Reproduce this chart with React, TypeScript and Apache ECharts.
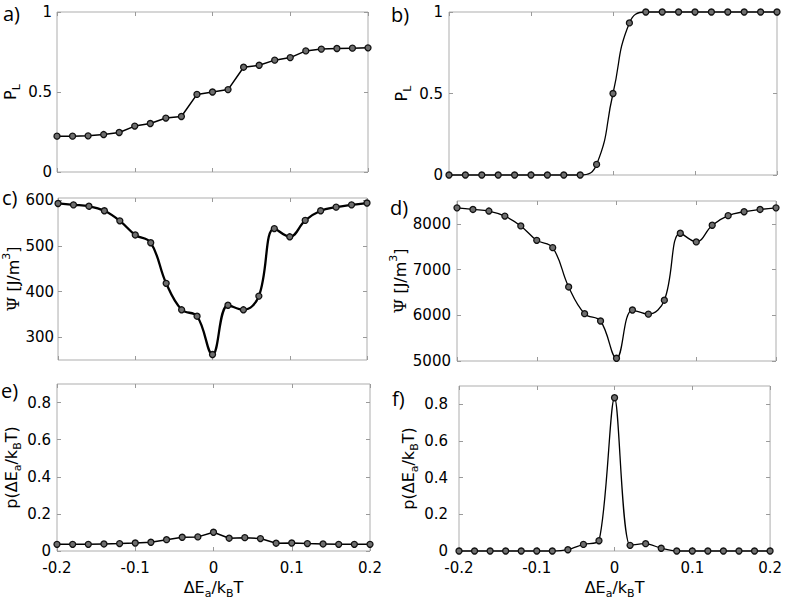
import React, { useEffect, useRef } from "react";
import * as echarts from "echarts";

// x values: ΔEa/kBT
const dEa = [-0.2, -0.18, -0.16, -0.14, -0.12, -0.1, -0.08, -0.06, -0.04, -0.02, 0, 0.02, 0.04, 0.06, 0.08, 0.1, 0.12, 0.14, 0.16, 0.18, 0.2];

// a) P_L
const pLa = [0.224, 0.224, 0.226, 0.234, 0.247, 0.287, 0.303, 0.337, 0.347, 0.485, 0.5, 0.515, 0.655, 0.667, 0.699, 0.715, 0.757, 0.768, 0.772, 0.774, 0.776];
// b) P_L
const pLb = [0, 0, 0, 0, 0, 0, 0, 0, 0, 0.065, 0.5, 0.933, 1, 1, 1, 1, 1, 1, 1, 1, 1];
// c) Ψ [J/m3]
const psiC = [593, 590, 587, 577, 555, 524, 507, 418, 360, 346, 262, 370, 360, 390, 538, 520, 556, 577, 585, 590, 594];
// d) Ψ [J/m3]
const psiD = [8350, 8315, 8280, 8170, 7955, 7640, 7480, 6620, 6035, 5875, 5060, 6115, 6025, 6330, 7795, 7605, 7970, 8180, 8265, 8315, 8350];
// e) p(ΔEa/kBT)
const probE = [0.036, 0.036, 0.036, 0.038, 0.04, 0.043, 0.047, 0.061, 0.074, 0.076, 0.101, 0.069, 0.072, 0.067, 0.042, 0.043, 0.04, 0.038, 0.036, 0.036, 0.036];
// f) p(ΔEa/kBT)
const probF = [0, 0, 0, 0, 0, 0, 0, 0.007, 0.036, 0.056, 0.836, 0.031, 0.04, 0.015, 0, 0, 0, 0, 0, 0, 0];

// tick values / labels
const xTickValues = [-0.2, -0.1, 0, 0.1, 0.2];
const xTickLabels = ["-0.2", "-0.1", "0", "0.1", "0.2"];
const pTicks = [0, 0.5, 1];
const pTickLabels = ["0", "0.5", "1"];
const psiCTicks = [300, 400, 500, 600];
const psiDTicks = [5000, 6000, 7000, 8000];
const probTicks = [0, 0.2, 0.4, 0.6, 0.8];
const probTickLabels = ["0", "0.2", "0.4", "0.6", "0.8"];

const panelLetters = ["a)", "b)", "c)", "d)", "e)", "f)"];

const FONT = "DejaVu Sans";
const rich = {
  m: { fontFamily: FONT, fontSize: 16, lineHeight: 24, verticalAlign: "middle", color: "#000" },
  s: { fontFamily: FONT, fontSize: 11, lineHeight: 12, verticalAlign: "bottom", color: "#000" },
  u: { fontFamily: FONT, fontSize: 11, lineHeight: 12, verticalAlign: "top", color: "#000" },
  psi: { fontFamily: "DejaVu Serif", fontSize: 17, lineHeight: 24, verticalAlign: "middle", color: "#000" },
};

const nameP = "{m|P}{s|L}";
const namePsi = "{psi|Ψ}{m| [J/m}{u|3}{m|]}";
const nameProb = "{m|p(ΔE}{s|a}{m|/k}{s|B}{m|T)}";
const nameX = "{m|ΔE}{s|a}{m|/k}{s|B}{m|T}";

function fmt(values: number[], labels: string[] | null) {
  return (v: number) => {
    if (!labels) return String(v);
    const i = values.findIndex((t) => Math.abs(t - v) < 1e-9);
    return i >= 0 ? labels[i] : "";
  };
}

export default function App() {
  const ref = useRef<HTMLDivElement>(null);
  useEffect(() => {
    if (!ref.current) return;
    const chart = echarts.init(ref.current, null, { renderer: "svg" });

    const panels = [
      { data: pLa, min: 0, max: 1, ticks: pTicks, labels: pTickLabels, name: nameP, grid: { left: 57, top: 12, width: 311, height: 160 }, lm: 5, ng: 35, lw: 1.5, smooth: false as any, lx: 3, ly: 13 },
      { data: pLb, min: 0, max: 1, ticks: pTicks, labels: pTickLabels, name: nameP, grid: { left: 449, top: 12, width: 328, height: 163 }, lm: 6, ng: 36, lw: 1.3, smooth: 0.5 as any, lx: 391, ly: 14 },
      { data: psiC, min: 250, max: 605, ticks: psiCTicks, labels: null, name: namePsi, grid: { left: 57, top: 198, width: 310, height: 162 }, lm: 4, ng: 28, lw: 2.3, smooth: 0.4 as any, lx: 2, ly: 197 },
      { data: psiD, min: 5000, max: 8500, ticks: psiDTicks, labels: null, name: namePsi, grid: { left: 457, top: 201, width: 319, height: 160 }, lm: 6, ng: 38, lw: 1.3, smooth: 0.4 as any, lx: 390, ly: 207 },
      { data: probE, min: 0, max: 0.9, ticks: probTicks, labels: probTickLabels, name: nameProb, grid: { left: 57, top: 384, width: 313, height: 167 }, lm: 6, ng: 32, lw: 1.5, smooth: false as any, lx: 1, ly: 390 },
      { data: probF, min: 0, max: 0.9, ticks: probTicks, labels: probTickLabels, name: nameProb, grid: { left: 459, top: 386, width: 319, height: 165 }, lm: 11, ng: 30, lw: 1.3, smooth: 0.3 as any, lx: 392, ly: 398 },
    ];

    const grids: any[] = [];
    const xAxes: any[] = [];
    const yAxes: any[] = [];
    const series: any[] = [];
    const graphics: any[] = [];
    const tickStyle = { color: "#9a9a9a", width: 1 };

    panels.forEach((p, i) => {
      grids.push({ ...p.grid, show: true, borderColor: "#adadad", borderWidth: 1, backgroundColor: "transparent", containLabel: false });
      const bottomRow = i >= 4;
      xAxes.push({
        gridIndex: i, type: "value", position: "bottom", min: -0.2, max: 0.2,
        axisLine: { show: false, onZero: false },
        axisTick: { show: true, inside: true, length: 4, lineStyle: tickStyle, customValues: xTickValues },
        axisLabel: { show: bottomRow, customValues: xTickValues, formatter: fmt(xTickValues, xTickLabels), margin: 10, fontFamily: FONT, fontSize: 15, lineHeight: 14, color: "#000", showMinLabel: true, showMaxLabel: true },
        splitLine: { show: false },
        name: bottomRow ? nameX : "", nameLocation: "middle", nameGap: 24,
        nameTextStyle: { rich },
      });
      xAxes.push({
        gridIndex: i, type: "value", position: "top", min: -0.2, max: 0.2,
        axisLine: { show: false, onZero: false },
        axisTick: { show: true, inside: true, length: 4, lineStyle: tickStyle, customValues: xTickValues },
        axisLabel: { show: false },
        splitLine: { show: false },
      });
      yAxes.push({
        gridIndex: i, type: "value", position: "left", min: p.min, max: p.max,
        axisLine: { show: false, onZero: false },
        axisTick: { show: true, inside: true, length: 4, lineStyle: tickStyle, customValues: p.ticks },
        axisLabel: { show: true, customValues: p.ticks, formatter: fmt(p.ticks, p.labels), margin: p.lm, fontFamily: FONT, fontSize: 15, lineHeight: 14, color: "#000", showMinLabel: true, showMaxLabel: true },
        splitLine: { show: false },
        name: p.name, nameLocation: "middle", nameRotate: 90, nameGap: p.ng,
        nameTextStyle: { rich },
      });
      yAxes.push({
        gridIndex: i, type: "value", position: "right", min: p.min, max: p.max,
        axisLine: { show: false, onZero: false },
        axisTick: { show: true, inside: true, length: 4, lineStyle: tickStyle, customValues: p.ticks },
        axisLabel: { show: false },
        splitLine: { show: false },
      });
      series.push({
        type: "line",
        xAxisIndex: 2 * i,
        yAxisIndex: 2 * i,
        data: dEa.map((x, j) => [x, p.data[j]]),
        smooth: p.smooth,
        clip: false,
        symbol: "circle",
        symbolSize: 6,
        lineStyle: { color: "#000", width: p.lw },
        itemStyle: { color: "#6e6e6e", borderColor: "#111", borderWidth: 1.3 },
        emphasis: { disabled: true },
      });
      graphics.push({
        type: "text", left: p.lx, top: p.ly - 10,
        style: { text: panelLetters[i], fontFamily: "Open Sans", fontSize: 20, lineHeight: 20, fill: "#000" },
      });
    });

    chart.setOption({
      animation: false,
      backgroundColor: "#fff",
      grid: grids,
      xAxis: xAxes,
      yAxis: yAxes,
      series,
      graphic: graphics,
    });
    return () => chart.dispose();
  }, []);

  return <div ref={ref} style={{ position: "fixed", left: 0, top: 0, width: 785, height: 603 }} />;
}
